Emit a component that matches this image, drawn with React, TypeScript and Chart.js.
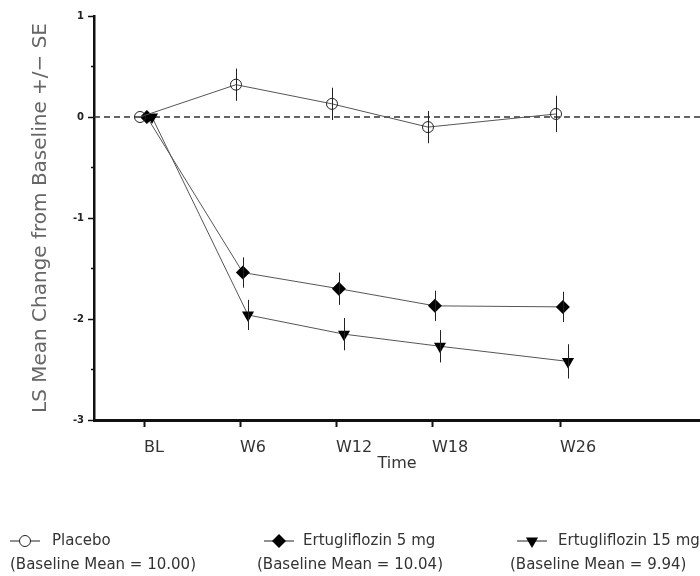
import React, { useEffect, useRef } from "react";
import { Chart, registerables } from "chart.js";

Chart.register(...registerables);

const weeks = [0, 6, 12, 18, 26];
const tickLabels = ["BL", "W6", "W12", "W18", "W26"];

const placebo = [0, 0.32, 0.13, -0.1, 0.03];
const placeboSE = [0, 0.16, 0.16, 0.16, 0.18];
const ertu5 = [0, -1.54, -1.7, -1.87, -1.88];
const ertu5SE = [0, 0.15, 0.16, 0.15, 0.15];
const ertu15 = [0, -1.96, -2.15, -2.27, -2.42];
const ertu15SE = [0, 0.15, 0.16, 0.16, 0.17];

// small horizontal jitter (weeks) so that groups do not overlap
const jitter = [-0.25, 0.18, 0.5];

const seriesNames = ["Placebo", "Ertugliflozin 5 mg", "Ertugliflozin 15 mg"];
const baselineTexts = [
  "(Baseline Mean = 10.00)",
  "(Baseline Mean = 10.04)",
  "(Baseline Mean = 9.94)",
];

const seList = [placeboSE, ertu5SE, ertu15SE];

const FONT = "DejaVu Sans";

function drawMarker(ctx: CanvasRenderingContext2D, kind: number, x: number, y: number) {
  ctx.save();
  ctx.strokeStyle = "#222";
  ctx.fillStyle = "#000";
  ctx.lineWidth = 1;
  ctx.beginPath();
  ctx.moveTo(x - 15, y);
  ctx.lineTo(x + 15, y);
  ctx.stroke();
  ctx.beginPath();
  if (kind === 0) {
    ctx.arc(x, y, 5.5, 0, Math.PI * 2);
    ctx.fillStyle = "#fff";
    ctx.fill();
    ctx.stroke();
  } else if (kind === 1) {
    const r = 7;
    ctx.moveTo(x, y - r);
    ctx.lineTo(x + r, y);
    ctx.lineTo(x, y + r);
    ctx.lineTo(x - r, y);
    ctx.closePath();
    ctx.fill();
  } else {
    const r = 7;
    ctx.moveTo(x - r * 0.87, y - r * 0.5);
    ctx.lineTo(x + r * 0.87, y - r * 0.5);
    ctx.lineTo(x, y + r);
    ctx.closePath();
    ctx.fill();
  }
  ctx.restore();
}

const customPlugin = {
  id: "customDraw",
  beforeDatasetsDraw(chart: any) {
    const { ctx, chartArea, scales } = chart;
    const y0 = scales.y.getPixelForValue(0);
    ctx.save();
    ctx.strokeStyle = "#333";
    ctx.lineWidth = 1.5;
    ctx.setLineDash([6, 4]);
    ctx.beginPath();
    ctx.moveTo(chartArea.left, y0);
    ctx.lineTo(chartArea.right, y0);
    ctx.stroke();
    ctx.restore();
  },
  afterDatasetsDraw(chart: any) {
    const { ctx, scales } = chart;
    ctx.save();
    ctx.strokeStyle = "#222";
    ctx.lineWidth = 1;
    chart.data.datasets.forEach((ds: any, di: number) => {
      const meta = chart.getDatasetMeta(di);
      ds.data.forEach((pt: any, i: number) => {
        const se = seList[di][i];
        if (!se) return;
        const x = meta.data[i].x;
        const yTop = scales.y.getPixelForValue(pt.y + se);
        const yBot = scales.y.getPixelForValue(pt.y - se);
        ctx.beginPath();
        ctx.moveTo(Math.round(x) + 0.5, yTop);
        ctx.lineTo(Math.round(x) + 0.5, yBot);
        ctx.stroke();
      });
    });
    ctx.restore();
  },
  afterDraw(chart: any) {
    const { ctx, chartArea, scales } = chart;
    ctx.save();
    // minor ticks on y axis
    ctx.strokeStyle = "#111";
    ctx.lineWidth = 1.5;
    for (let v = -2.5; v <= 0.5; v += 1) {
      const py = scales.y.getPixelForValue(v);
      ctx.beginPath();
      ctx.moveTo(chartArea.left - 3, py);
      ctx.lineTo(chartArea.left, py);
      ctx.stroke();
    }
    // y title
    const yTitle = "LS Mean Change from Baseline +/\u2212 SE";
    ctx.font = `19px "${FONT}"`;
    const w = ctx.measureText(yTitle).width;
    const size = (19 * 390) / w;
    ctx.font = `${size}px "${FONT}"`;
    ctx.fillStyle = "#666";
    ctx.textAlign = "center";
    ctx.textBaseline = "middle";
    ctx.translate(41, (chartArea.top + chartArea.bottom) / 2);
    ctx.rotate(-Math.PI / 2);
    ctx.fillText(yTitle, 0, 0);
    ctx.restore();

    ctx.save();
    // x title
    ctx.font = `16px "${FONT}"`;
    ctx.fillStyle = "#333";
    ctx.textAlign = "center";
    ctx.textBaseline = "middle";
    ctx.fillText("Time", (chartArea.left + chartArea.right) / 2, 464);

    // legend
    const markerX = [25, 279, 532];
    const nameX = [52, 303, 558];
    const baseX = [10, 257, 510];
    ctx.font = `15px "${FONT}"`;
    ctx.textAlign = "left";
    for (let i = 0; i < 3; i++) {
      drawMarker(ctx, i, markerX[i], 541);
      ctx.fillStyle = "#333";
      ctx.fillText(seriesNames[i], nameX[i], 541);
      ctx.fillText(baselineTexts[i], baseX[i], 565);
    }
    ctx.restore();
  },
};

export default function App() {
  const ref = useRef<HTMLCanvasElement | null>(null);
  useEffect(() => {
    if (!ref.current) return;
    const mk = (vals: number[], j: number) => vals.map((v, i) => ({ x: weeks[i] + jitter[j], y: v }));
    const chart = new Chart(ref.current, {
      type: "line",
      data: {
        datasets: [
          {
            label: seriesNames[0],
            data: mk(placebo, 0),
            borderColor: "#555",
            borderWidth: 1,
            pointStyle: "circle",
            pointRadius: 5.5,
            pointBorderWidth: 1,
            pointBorderColor: "#222",
            pointBackgroundColor: "rgba(255,255,255,0)",
            tension: 0,
          },
          {
            label: seriesNames[1],
            data: mk(ertu5, 1),
            borderColor: "#555",
            borderWidth: 1,
            pointStyle: "rectRot",
            pointRadius: 7,
            pointBorderWidth: 0,
            pointBackgroundColor: "#000",
            pointBorderColor: "#000",
            tension: 0,
          },
          {
            label: seriesNames[2],
            data: mk(ertu15, 2),
            borderColor: "#555",
            borderWidth: 1,
            pointStyle: "triangle",
            rotation: 180,
            pointRadius: 7,
            pointBorderWidth: 0,
            pointBackgroundColor: "#000",
            pointBorderColor: "#000",
            tension: 0,
          } as any,
        ],
      },
      options: {
        animation: false,
        responsive: false,
        devicePixelRatio: 1,
        layout: { autoPadding: false, padding: { left: 0, top: 16, right: 0, bottom: 96 } },
        plugins: { legend: { display: false }, tooltip: { enabled: false } },
        scales: {
          x: {
            type: "linear",
            min: -3.125,
            max: 34.75,
            afterBuildTicks: (s: any) => {
              s.ticks = weeks.map((v) => ({ value: v }));
            },
            afterFit: (s: any) => {
              s.height = 60;
              s.paddingLeft = 0;
              s.paddingRight = 0;
            },
            ticks: {
              align: "start",
              padding: 11,
              color: "#333",
              font: { family: FONT, size: 16 },
              callback: (v: any) => {
                const i = weeks.indexOf(Number(v));
                return i >= 0 ? tickLabels[i] : "";
              },
            },
            grid: { drawOnChartArea: false, drawTicks: true, tickLength: 7, tickWidth: 2, tickColor: "#111" },
            border: { display: true, width: 3, color: "#111" },
          },
          y: {
            min: -3,
            max: 1,
            afterFit: (s: any) => {
              s.width = 94;
              s.paddingTop = 0;
              s.paddingBottom = 0;
            },
            ticks: {
              stepSize: 0.5,
              padding: 4,
              color: "#222",
              font: { family: FONT, size: 10, weight: "bold" },
              callback: (v: any) => (Number.isInteger(Number(v)) ? String(v) : ""),
            },
            grid: {
              drawOnChartArea: false,
              drawTicks: true,
              tickLength: 6,
              tickWidth: 1.5,
              tickColor: (c: any) => (Number.isInteger(c.tick?.value) ? "#111" : "rgba(0,0,0,0)"),
            },
            border: { display: true, width: 2.5, color: "#111" },
          },
        },
      },
      plugins: [customPlugin],
    });
    return () => chart.destroy();
  }, []);
  return (
    <div style={{ position: "absolute", left: 0, top: 0, width: 700, height: 576, background: "#fff" }}>
      <canvas ref={ref} width={700} height={576} />
    </div>
  );
}
